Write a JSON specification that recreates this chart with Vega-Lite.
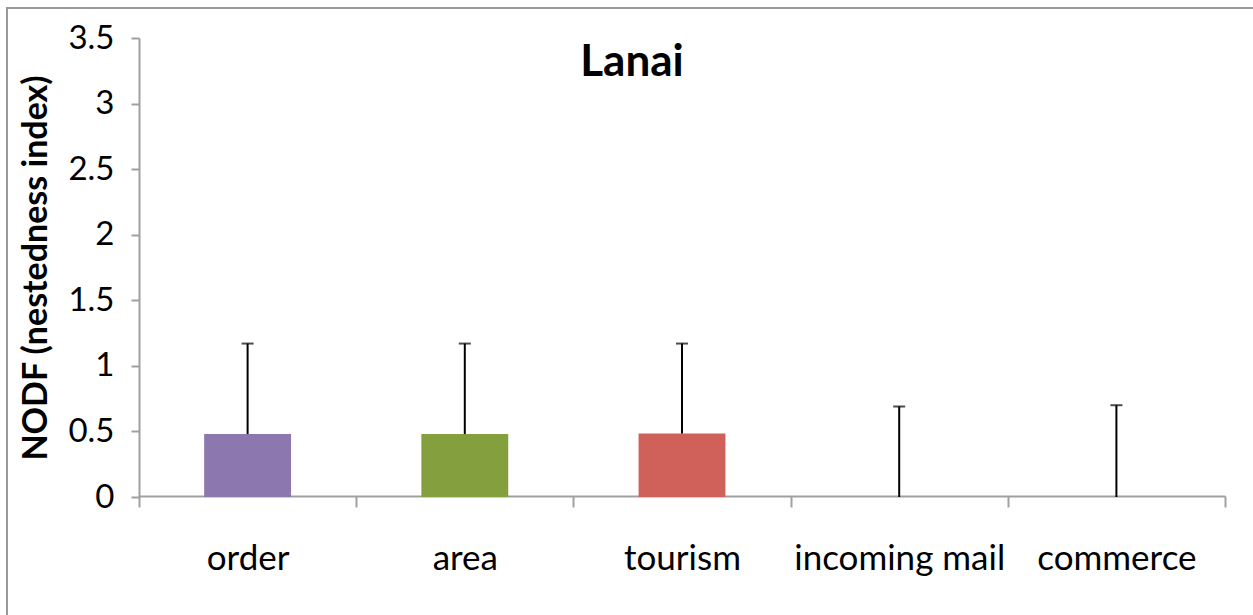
{
  "$schema": "https://vega.github.io/schema/vega-lite/v6.json",
  "autosize": {"type": "none"},
  "padding": {"left": 7, "top": 8, "right": -4, "bottom": -4},
  "width": 1250,
  "height": 611,
  "background": "white",
  "config": {
    "view": {"stroke": "#999999", "strokeWidth": 2},
    "font": "Lato"
  },
  "title": {
    "text": "Lanai",
    "font": "Lato",
    "fontSize": 44,
    "fontWeight": "bold",
    "color": "#000000",
    "anchor": "middle",
    "frame": "group",
    "baseline": "alphabetic",
    "offset": -112
  },
  "data": {
    "values": [
      {"cat": "order", "value": 0.48, "upper": 1.17, "color": "#8C77AE"},
      {"cat": "area", "value": 0.48, "upper": 1.17, "color": "#84A03E"},
      {"cat": "tourism", "value": 0.485, "upper": 1.17, "color": "#CF615A"},
      {"cat": "incoming mail", "value": 0, "upper": 0.69, "color": "#000000"},
      {"cat": "commerce", "value": 0, "upper": 0.70, "color": "#000000"}
    ]
  },
  "encoding": {
    "x": {
      "field": "cat",
      "type": "nominal",
      "sort": null,
      "scale": {"range": [132, 1218], "paddingInner": 0, "paddingOuter": 0},
      "axis": {
        "title": null,
        "labelAngle": 0,
        "labelFont": "Lato",
        "labelFontSize": 35,
        "labelColor": "#000000",
        "labelPadding": 34,
        "labelLimit": 500,
        "tickBand": "extent",
        "tickSize": 11,
        "tickColor": "#a0a0a0",
        "tickWidth": 2,
        "domainColor": "#a0a0a0",
        "domainWidth": 2,
        "offset": -123,
        "grid": false
      }
    }
  },
  "layer": [
    {
      "mark": {"type": "bar", "width": {"band": 0.4}},
      "encoding": {
        "y": {
          "field": "value",
          "type": "quantitative",
          "scale": {"domain": [0, 3.5], "range": [489, 30], "nice": false},
          "axis": {
            "title": "NODF (nestedness index)",
            "titleFont": "Lato",
            "titleFontSize": 34,
            "titleFontWeight": "bold",
            "titleColor": "#000000",
            "titlePadding": 14,
            "values": [0, 0.5, 1, 1.5, 2, 2.5, 3, 3.5],
            "format": "~r",
            "labelFont": "Lato",
            "labelFontSize": 33,
            "labelColor": "#000000",
            "labelPadding": 17,
            "tickSize": 8,
            "tickColor": "#a0a0a0",
            "tickWidth": 2,
            "domainColor": "#a0a0a0",
            "domainWidth": 2,
            "offset": -132,
            "grid": false
          }
        },
        "color": {"field": "color", "type": "nominal", "scale": null, "legend": null}
      }
    },
    {
      "mark": {"type": "rule", "color": "#000000", "strokeWidth": 2},
      "encoding": {
        "y": {"field": "value", "type": "quantitative"},
        "y2": {"field": "upper"}
      }
    },
    {
      "mark": {"type": "tick", "color": "#000000", "orient": "horizontal", "size": 12, "thickness": 2},
      "encoding": {
        "y": {"field": "upper", "type": "quantitative"}
      }
    }
  ]
}
